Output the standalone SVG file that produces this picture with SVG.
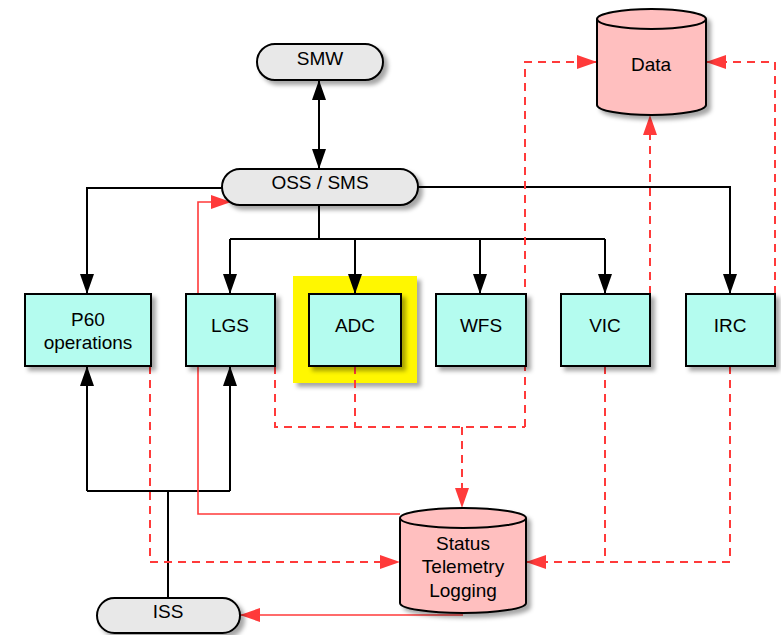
<svg xmlns="http://www.w3.org/2000/svg" width="781" height="635" viewBox="0 0 781 635">
<style>
  .box{fill:#b4fcef;stroke:#000;stroke-width:2}
  .pill{fill:#e8e8e8;stroke:#000;stroke-width:2}
  .cyl{fill:#ffbfbf;stroke:#000;stroke-width:2}
  .lbl{font-family:"Liberation Sans",Arial,sans-serif;font-size:19px;fill:#000;text-anchor:middle}
  .blk{fill:none;stroke:#000;stroke-width:2}
  .rs{fill:none;stroke:#ff3a3a;stroke-width:1.6}
  .rd{fill:none;stroke:#ff3a3a;stroke-width:2;stroke-dasharray:8 6}
</style>
<defs>
  <filter id="sh" x="-20%" y="-20%" width="150%" height="150%">
    <feDropShadow dx="4" dy="4" stdDeviation="2" flood-color="#000" flood-opacity="0.35"/>
  </filter>
  <marker id="ab" markerUnits="userSpaceOnUse" markerWidth="20" markerHeight="14" refX="20" refY="7" orient="auto-start-reverse">
    <path d="M0,0 L20,7 L0,14 Z" fill="#000"/>
  </marker>
  <marker id="ar" markerUnits="userSpaceOnUse" markerWidth="20" markerHeight="14" refX="20" refY="7" orient="auto">
    <path d="M0,0 L20,7 L0,14 Z" fill="#ff3a3a"/>
  </marker>
</defs>
<rect width="781" height="635" fill="#fff"/>

<g id="adc-highlight">
  <rect x="293" y="276" width="124" height="107" fill="#fff700" filter="url(#sh)"/>
</g>

<g id="connectors">
  <path class="blk" d="M319,80 V169" marker-start="url(#ab)" marker-end="url(#ab)"/>
  <path class="blk" d="M222,188 H87 V294" marker-end="url(#ab)"/>
  <path class="blk" d="M418,187 H730 V294" marker-end="url(#ab)"/>
  <path class="blk" d="M319,205 V239 M230,239 H605"/>
  <path class="blk" d="M230,239 V294" marker-end="url(#ab)"/>
  <path class="blk" d="M355,239 V294" marker-end="url(#ab)"/>
  <path class="blk" d="M480,239 V294" marker-end="url(#ab)"/>
  <path class="blk" d="M605,239 V294" marker-end="url(#ab)"/>
  <path class="blk" d="M168,598 V491 M87,491 H230"/>
  <path class="blk" d="M87,491 V366" marker-end="url(#ab)"/>
  <path class="blk" d="M230,491 V366" marker-end="url(#ab)"/>

  <path class="rs" d="M400,514 H198 V202 H231" marker-end="url(#ar)"/>
  <path class="rs" d="M463,615 H240" marker-end="url(#ar)"/>

  <path class="rd" d="M150,366 V562 H400" marker-end="url(#ar)"/>
  <path class="rd" d="M275,366 V427 H525 M355,366 V427"/>
  <path class="rd" d="M462,427 V508" marker-end="url(#ar)"/>
  <path class="rd" d="M525,427 V62 H597" marker-end="url(#ar)"/>
  <path class="rd" d="M650,294 V115" marker-end="url(#ar)"/>
  <path class="rd" d="M775,294 V62 H706" marker-end="url(#ar)"/>
  <path class="rd" d="M605,366 V562 M730,366 V562 H526" marker-end="url(#ar)"/>
</g>

<g id="smw">
  <rect class="pill" x="257" y="44" width="126" height="36" rx="18" filter="url(#sh)"/>
  <text class="lbl" x="320" y="65">SMW</text>
</g>
<g id="oss-sms">
  <rect class="pill" x="222" y="169" width="196" height="36" rx="18" filter="url(#sh)"/>
  <text class="lbl" x="320" y="189">OSS / SMS</text>
</g>
<g id="data">
  <path class="cyl" d="M597,19 A54.5,10 0 0 1 706,19 V105 A54.5,10 0 0 1 597,105 Z" filter="url(#sh)"/>
  <path fill="none" stroke="#000" stroke-width="2" d="M597,19 A54.5,10 0 0 0 706,19"/>
  <text class="lbl" x="651" y="71">Data</text>
</g>
<g id="p60">
  <rect class="box" x="25" y="294" width="126" height="72" filter="url(#sh)"/>
  <text class="lbl" x="88" y="326">P60</text>
  <text class="lbl" x="88" y="349">operations</text>
</g>
<g id="lgs">
  <rect class="box" x="186" y="294" width="89" height="72" filter="url(#sh)"/>
  <text class="lbl" x="230" y="332">LGS</text>
</g>
<g id="adc">
  <rect class="box" x="309" y="294" width="92" height="72" filter="url(#sh)"/>
  <text class="lbl" x="355" y="332">ADC</text>
</g>
<g id="wfs">
  <rect class="box" x="436" y="294" width="90" height="72" filter="url(#sh)"/>
  <text class="lbl" x="481" y="332">WFS</text>
</g>
<g id="vic">
  <rect class="box" x="561" y="294" width="89" height="72" filter="url(#sh)"/>
  <text class="lbl" x="605" y="332">VIC</text>
</g>
<g id="irc">
  <rect class="box" x="686" y="294" width="89" height="72" filter="url(#sh)"/>
  <text class="lbl" x="730" y="332">IRC</text>
</g>
<g id="status">
  <path class="cyl" d="M400,518 A63,10 0 0 1 526,518 V603 A63,10 0 0 1 400,603 Z" filter="url(#sh)"/>
  <path fill="none" stroke="#000" stroke-width="2" d="M400,518 A63,10 0 0 0 526,518"/>
  <text class="lbl" x="463" y="550">Status</text>
  <text class="lbl" x="463" y="573">Telemetry</text>
  <text class="lbl" x="463" y="597">Logging</text>
</g>
<g id="iss">
  <rect class="pill" x="97" y="598" width="143" height="35" rx="17.5" filter="url(#sh)"/>
  <text class="lbl" x="168" y="618">ISS</text>
</g>
</svg>
